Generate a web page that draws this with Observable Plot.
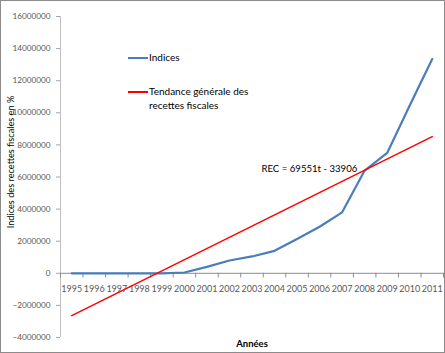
<!DOCTYPE html>
<html>
<head>
<meta charset="utf-8">
<script src="https://cdn.jsdelivr.net/npm/d3@7"></script>
<script src="https://cdn.jsdelivr.net/npm/@observablehq/plot@0.6"></script>
<style>
  html, body { margin: 0; padding: 0; background: #fff; }
  #wrap { position: relative; width: 445px; height: 353px; font-family: Lato, sans-serif; }
  #border { position: absolute; left: 0; top: 0; right: 0; bottom: 0; border: 1px solid #8c8c8c; pointer-events: none; }
  .leg { position: absolute; font-size: 10px; color: #000; line-height: 13.5px; white-space: nowrap; }
  .sw { position: absolute; width: 20px; }
  #ytitle { position: absolute; left: 10px; top: 162px; font-size: 9.2px; color: #000; white-space: nowrap;
            transform: translate(-50%, -50%) rotate(-90deg); }
</style>
</head>
<body>
<div id="wrap">
  <div id="chart"></div>
  <div class="sw" style="left:128px;top:57px;height:2px;background:#4a7ebb;"></div>
  <div class="leg" style="left:149px;top:51px;">Indices</div>
  <div class="sw" style="left:128px;top:91px;height:1.6px;background:#ff0000;"></div>
  <div class="leg" style="left:149px;top:85px;">Tendance générale des<br>recettes fiscales</div>
  <div id="ytitle"></div>
  <div id="border"></div>
</div>
<script>
const years = [1995,1996,1997,1998,1999,2000,2001,2002,2003,2004,2005,2006,2007,2008,2009,2010,2011];
const indices = [0,0,0,0,0,50000,400000,800000,1050000,1400000,2140000,2900000,3800000,6400000,7500000,10450000,13350000];
const trendYears = [1995, 2011];
const trendValues = [-2640000, 8520000];
const yTicks = [-4000000,-2000000,0,2000000,4000000,6000000,8000000,10000000,12000000,14000000,16000000];
const annotation = "REC = 69551t - 33906";
const xTitle = "Années";
const yTitle = "Indices des recettes fiscales en %";

document.getElementById("ytitle").textContent = yTitle;

const blue = years.map((y, i) => ({year: y, v: indices[i]}));
const red = trendYears.map((y, i) => ({year: y, v: trendValues[i]}));
const bounds = d3.range(years.length + 1).map(i => years[0] - 0.5 + i);

const plot = Plot.plot({
  width: 445,
  height: 353,
  marginLeft: 60,
  marginRight: 2,
  marginTop: 16,
  marginBottom: 16,
  style: {fontFamily: "Lato, sans-serif", fontSize: "10px", background: "#fff", overflow: "visible"},
  x: {domain: [years[0] - 0.5, years[years.length - 1] + 0.5], axis: null},
  y: {domain: [-4000000, 16000000], axis: null},
  marks: [
    Plot.ruleX([years[0] - 0.5], {y1: -4000000, y2: 16000000, stroke: "#bfbfbf"}),
    Plot.ruleY([0], {stroke: "#8c8c8c"}),
    Plot.axisY({ticks: yTicks, tickFormat: d3.format("d"), tickSize: 4, tickPadding: 6, stroke: "#a6a6a6", color: "#595959", label: null, fontSize: 8.2}),
    Plot.ruleX(bounds, {y1: 0, y2: -290000, stroke: "#8c8c8c"}),
    Plot.text(years, {x: d => d, y: 0, dy: 16, text: d => String(d), fill: "#595959", fontSize: 9}),
    Plot.line(blue, {x: "year", y: "v", stroke: "#4a7ebb", strokeWidth: 2.2}),
    Plot.line(red, {x: "year", y: "v", stroke: "#ff0000", strokeWidth: 1.5}),
    Plot.text([annotation], {x: 2003.42, y: 6520000, text: d => d, textAnchor: "start", fontSize: 9.6, fill: "#000"}),
    Plot.text([xTitle], {frameAnchor: "bottom", dy: 9, text: d => d, fontWeight: "bold", fontSize: 9.5, fill: "#000"})
  ]
});
document.getElementById("chart").appendChild(plot);
</script>
</body>
</html>
